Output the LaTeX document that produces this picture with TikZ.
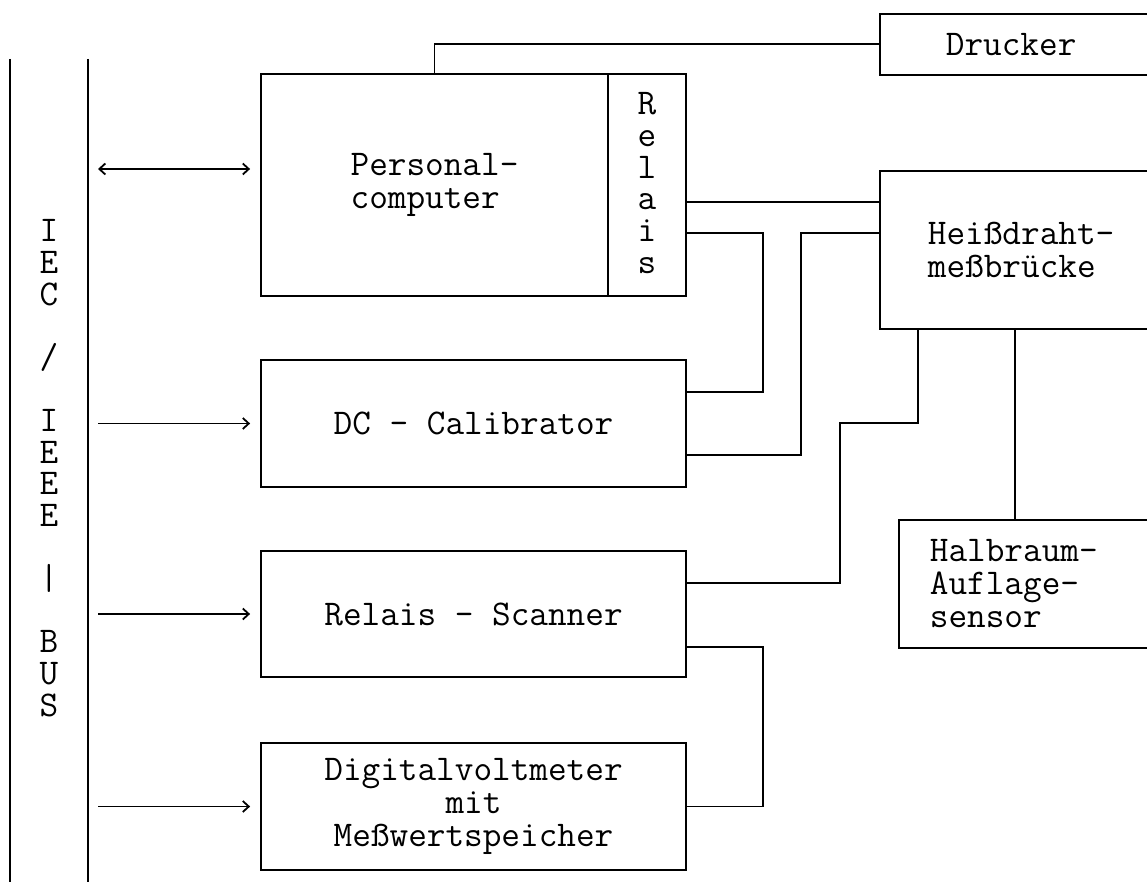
\documentclass[tikz,border=0pt]{standalone}
\usepackage{fontspec}
\usepackage{tikz}
\usetikzlibrary{arrows.meta,calc}

\begin{document}
\begin{tikzpicture}[x=1pt, y=-1pt, >={Straight Barb[length=6pt,width=11pt]},
    line width=1.8pt,
    txt/.style={font=\ttfamily\fontsize{36.2}{33}\selectfont},
    letter/.style={txt, anchor=base, inner sep=0pt},
    box/.style={draw, txt, rectangle, inner sep=0pt, align=center},
    openbox/.style={draw, txt, rectangle, anchor=north west, inner ysep=0pt,
      text width=400pt, align=left}]
  % Frame
  \useasboundingbox (0,0) rectangle (1147,882);
  \fill[white] (0,0) rectangle (1147,882);
  \clip (0,0) rectangle (1147,882);

  % Bus lines
  \coordinate (bus1t) at (10,59);
  \coordinate (bus1b) at (10,890);
  \coordinate (bus2t) at (88,59);
  \coordinate (bus2b) at (88,890);
  \draw (bus1t) -- (bus1b);
  \draw (bus2t) -- (bus2b);

  % Bus label
  \foreach \c [count=\i from 0] in {I,E,C,{},/,{},I,E,E,E,{},|,{},B,U,S}
    \node[letter] (bus\i) at (49,{232+31.6*\i+10}) {\c};

  % Left column
  \node[box, minimum width=347pt, minimum height=222pt, align=left] (pc) at (434.5,185)
    {Personal-\\computer};
  \node[box, minimum width=78pt, minimum height=222pt] (relais) at (647,185) {};
  \foreach \c [count=\i from 0] in {R,e,l,a,i,s}
    \node[letter] (rel\i) at (647,{105+31.6*\i+10}) {\c};
  \node[box, minimum width=425pt, minimum height=127pt] (dc) at (473.5,423.5)
    {DC - Calibrator};
  \node[box, minimum width=425pt, minimum height=126pt] (rs) at (473.5,614)
    {Relais - Scanner};
  \node[box, minimum width=425pt, minimum height=127pt] (dvm) at (473.5,806.5)
    {Digitalvoltmeter\\mit\\Meßwertspeicher};

  % Right column (cut by the page edge)
  \node[openbox, minimum height=61pt, inner xsep=66pt] (drucker) at (879,13) {Drucker};
  \node[openbox, minimum height=158pt, inner xsep=48pt] (heiss) at (879,170)
    {Heißdraht-\\meßbrücke};
  \node[openbox, minimum height=128pt, inner xsep=31pt] (halb) at (898,519)
    {Halbraum-\\Auflage-\\sensor};

  % Bus arrows
  \coordinate (apc) at (98,169);
  \coordinate (adc) at (98,423.5);
  \coordinate (ars) at (98,614);
  \coordinate (advm) at (98,806.5);
  \draw[<->] (apc) -- ([xshift=-10pt]apc -| pc.west);
  \draw[->] (adc) -- ([xshift=-10pt]adc -| dc.west);
  \draw[->] (ars) -- ([xshift=-10pt]ars -| rs.west);
  \draw[->] (advm) -- ([xshift=-10pt]advm -| dvm.west);

  % Wiring
  \draw (pc.north) |- (drucker.west);
  \draw (relais.east |- 0,202) -- (heiss.west |- 0,202);
  \coordinate (k1) at (763,392);
  \draw (relais.east |- 0,233) -| (k1) -- (dc.east |- k1);
  \coordinate (k2) at (801,455);
  \draw (heiss.west |- 0,233) -| (k2) -- (dc.east |- k2);
  \coordinate (k3) at (840,423);
  \coordinate (k4) at (840,583);
  \draw (918,0 |- heiss.south) |- (k3) -- (k4) -- (rs.east |- k4);
  \draw (1015,0 |- heiss.south) -- (1015,0 |- halb.north);
  \coordinate (k5) at (763,806.5);
  \draw (rs.east |- 0,647) -| (k5) -- (dvm.east |- k5);
\end{tikzpicture}
\end{document}
